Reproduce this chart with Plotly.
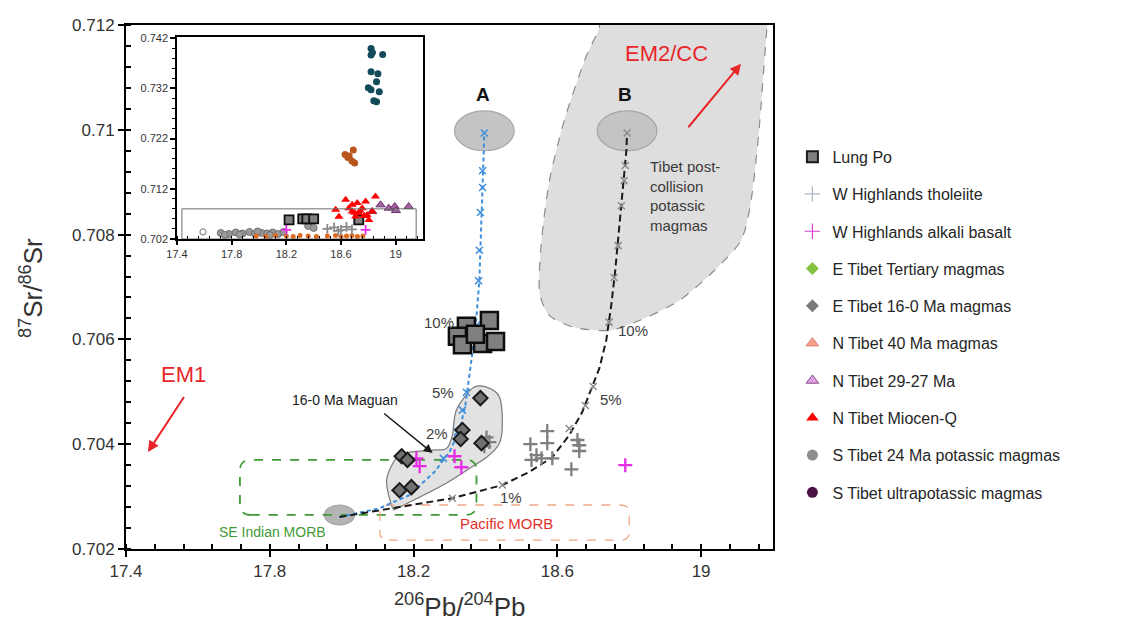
import plotly.graph_objects as go

# ---------------- axes ----------------
X_RANGE = [17.4, 19.2]
Y_RANGE = [0.702, 0.712]
X_TICKS = [17.4, 17.8, 18.2, 18.6, 19.0]
X_TICK_TEXT = ["17.4", "17.8", "18.2", "18.6", "19"]
Y_TICKS = [0.702, 0.704, 0.706, 0.708, 0.710, 0.712]
Y_TICK_TEXT = ["0.702", "0.704", "0.706", "0.708", "0.71", "0.712"]
X_TITLE = "<sup>206</sup>Pb/<sup>204</sup>Pb"
Y_TITLE = "<sup>87</sup>Sr/<sup>86</sup>Sr"
INSET_X_RANGE = [17.4, 19.2]
INSET_Y_RANGE = [0.702, 0.7422]
INSET_Y_TICKS = [0.702, 0.712, 0.722, 0.732, 0.742]
INSET_Y_TICK_TEXT = ["0.702", "0.712", "0.722", "0.732", "0.742"]

# ---------------- main panel samples ----------------
lung_po_x = [18.347, 18.411, 18.322, 18.336, 18.392, 18.428, 18.372]
lung_po_y = [0.70625, 0.70636, 0.70606, 0.70590, 0.70592, 0.70596, 0.70610]

maguan_x = [18.386, 18.336, 18.331, 18.389, 18.167, 18.183, 18.161, 18.194]
maguan_y = [0.70488, 0.70427, 0.70410, 0.70402, 0.70377, 0.70370, 0.70312, 0.70318]

tholeiite_x = [18.572, 18.525, 18.572, 18.542, 18.528, 18.556, 18.586, 18.656,
               18.661, 18.661, 18.639, 18.403, 18.411, 18.397]
tholeiite_y = [0.70425, 0.70400, 0.70402, 0.70379, 0.70370, 0.70373, 0.70373, 0.70408,
               0.70398, 0.70387, 0.70352, 0.70413, 0.70404, 0.70396]

alkali_x = [18.208, 18.217, 18.314, 18.333, 18.789]
alkali_y = [0.70373, 0.70358, 0.70377, 0.70356, 0.70360]

# mixing curve towards end-member A
mixA_x = [17.994, 18.106, 18.189, 18.258, 18.300, 18.328, 18.344, 18.358, 18.372,
          18.383, 18.389, 18.394, 18.397]
mixA_y = [0.70261, 0.70278, 0.70303, 0.70347, 0.70385, 0.70427, 0.70474, 0.70541,
          0.70617, 0.70712, 0.70827, 0.70922, 0.70994]
mixA_step_x = [18.397, 18.392, 18.392, 18.386, 18.383, 18.381, 18.375, 18.347,
               18.336, 18.322, 18.283]
mixA_step_y = [0.70994, 0.70922, 0.70890, 0.70842, 0.70770, 0.70712, 0.70627, 0.70499,
               0.70465, 0.70423, 0.70373]

# mixing curve towards end-member B
mixB_x = [17.994, 18.161, 18.308, 18.447, 18.522, 18.586, 18.633, 18.669, 18.694,
          18.717, 18.736, 18.750, 18.761, 18.772, 18.783, 18.792, 18.794]
mixB_y = [0.70261, 0.70280, 0.70297, 0.70322, 0.70347, 0.70375, 0.70417, 0.70461, 0.70503,
          0.70545, 0.70598, 0.70665, 0.70731, 0.70808, 0.70890, 0.70960, 0.70994]
mixB_step_x = [18.794, 18.789, 18.786, 18.778, 18.769, 18.758, 18.744, 18.700,
               18.678, 18.633, 18.447, 18.308]
mixB_step_y = [0.70994, 0.70932, 0.70903, 0.70855, 0.70779, 0.70718, 0.70633, 0.70510,
               0.70474, 0.70430, 0.70322, 0.70297]

mix_pct_text = ["10%", "5%", "2%", "10%", "5%", "1%"]
mix_pct_x = [18.272, 18.281, 18.264, 18.811, 18.750, 18.472]
mix_pct_y = [0.70632, 0.70499, 0.70421, 0.70617, 0.70486, 0.70299]

# end-member fields (centre x, centre y, half width, half height)
end_members = {"A": (18.397, 0.70998, 0.083, 0.00038),
               "B": (18.794, 0.70998, 0.083, 0.00038),
               "MORB": (17.994, 0.70265, 0.042, 0.00019)}

# outlined fields
post_collision_x = [18.730, 18.717, 18.675, 18.619, 18.578, 18.556, 18.550, 18.578, 18.647,
                    18.744, 18.828, 18.939, 19.036, 19.111, 19.139, 19.161, 19.183, 19.190]
post_collision_y = [0.71230, 0.71194, 0.71131, 0.71017, 0.70903, 0.70789, 0.70693, 0.70646,
                    0.70623, 0.70617, 0.70636, 0.70674, 0.70731, 0.70789, 0.70865, 0.70998,
                    0.71194, 0.71230]

maguan_field_x = [18.142, 18.125, 18.153, 18.189, 18.264, 18.292, 18.308, 18.319, 18.364,
                  18.403, 18.439, 18.447, 18.439, 18.403, 18.347, 18.292, 18.217, 18.161]
maguan_field_y = [0.70278, 0.70331, 0.70375, 0.70385, 0.70389, 0.70392, 0.70417, 0.70465,
                  0.70507, 0.70509, 0.70490, 0.70440, 0.70402, 0.70375, 0.70350, 0.70326,
                  0.70299, 0.70280]

se_indian_morb_box = [17.717, 18.375, 0.70265, 0.70370]
pacific_morb_box = [18.106, 18.800, 0.70217, 0.70284]

# ---------------- inset samples ----------------
in_ultra_x = [18.82, 18.83, 18.82, 18.905, 18.82, 18.87, 18.86, 18.80, 18.82, 18.88, 18.84, 18.86]
in_ultra_y = [0.7399, 0.7391, 0.7386, 0.7387, 0.7353, 0.7349, 0.7333, 0.7321, 0.7317, 0.7313,
              0.7295, 0.7293]

in_k24_x = [18.63, 18.66, 18.69, 18.68, 18.70, 18.65]
in_k24_y = [0.7188, 0.7185, 0.7197, 0.7175, 0.7171, 0.7182]

in_mioq_x = [18.634, 18.561, 18.585, 18.682, 18.719, 18.780, 18.852, 18.731, 18.791, 18.682,
             18.755, 18.658, 18.707, 18.828, 18.804, 18.70, 18.74, 18.77]
in_mioq_y = [0.7098, 0.7078, 0.70645, 0.7088, 0.70914, 0.70946, 0.71046, 0.70714, 0.7068,
             0.70746, 0.70814, 0.70814, 0.70646, 0.70746, 0.7058, 0.7072, 0.7076, 0.7066]

in_2927_x = [18.889, 18.949, 18.993, 19.002, 19.095, 18.828]
in_2927_y = [0.7088, 0.70814, 0.70846, 0.70766, 0.70846, 0.70746]

in_lungpo_x = [18.22, 18.32, 18.35, 18.40, 18.73]
in_lungpo_y = [0.7058, 0.7060, 0.7060, 0.7060, 0.7058]

in_gray_x = [17.72, 17.78, 17.83, 17.88, 17.93, 17.97, 18.02, 18.06, 18.10, 18.14, 18.18,
             17.75, 17.86, 17.99, 18.08, 18.36, 18.40]
in_gray_y = [0.7032, 0.7030, 0.7033, 0.7031, 0.7034, 0.7030, 0.7032, 0.7031, 0.7033, 0.7030,
             0.7034, 0.7028, 0.7029, 0.7035, 0.7028, 0.7046, 0.7042]

in_open_x = [17.59]
in_open_y = [0.7034]

in_orange_x = [17.98, 18.05, 18.12, 18.20, 18.25, 18.30, 18.36, 18.42, 18.50, 18.56, 18.60,
               18.64, 18.68, 18.72, 18.76]
in_orange_y = [0.7026, 0.7025, 0.7027, 0.7026, 0.7025, 0.7027, 0.7026, 0.7025, 0.7026, 0.7027,
               0.7025, 0.7026, 0.7027, 0.7025, 0.7026]

in_thol_x = [18.50, 18.55, 18.60, 18.64, 18.68, 18.58]
in_thol_y = [0.7040, 0.7043, 0.7038, 0.7044, 0.7039, 0.7036]

in_alkali_x = [18.20, 18.78]
in_alkali_y = [0.7038, 0.7038]

# outline of the main panel range drawn inside the inset
inset_frame_box = [17.436, 19.15, 0.702, 0.708]

FONT = "Arial, Liberation Sans, sans-serif"


def smooth_closed_path(xs, ys, tension=6.0):
    """Closed Catmull-Rom spline written as cubic Bezier segments."""
    n = len(xs)
    parts = [f"M {xs[0]},{ys[0]}"]
    for i in range(n):
        p0 = (xs[i - 1], ys[i - 1])
        p1 = (xs[i], ys[i])
        p2 = (xs[(i + 1) % n], ys[(i + 1) % n])
        p3 = (xs[(i + 2) % n], ys[(i + 2) % n])
        c1 = (p1[0] + (p2[0] - p0[0]) / tension, p1[1] + (p2[1] - p0[1]) / tension)
        c2 = (p2[0] - (p3[0] - p1[0]) / tension, p2[1] - (p3[1] - p1[1]) / tension)
        parts.append(f"C {c1[0]},{c1[1]} {c2[0]},{c2[1]} {p2[0]},{p2[1]}")
    return " ".join(parts) + " Z"


def rounded_box_path(x0, x1, y0, y1, rx, ry):
    return (f"M {x0 + rx},{y0} L {x1 - rx},{y0} Q {x1},{y0} {x1},{y0 + ry} "
            f"L {x1},{y1 - ry} Q {x1},{y1} {x1 - rx},{y1} L {x0 + rx},{y1} "
            f"Q {x0},{y1} {x0},{y1 - ry} L {x0},{y0 + ry} Q {x0},{y0} {x0 + rx},{y0} Z")


fig = go.Figure()

# ---------- main panel traces ----------
fig.add_trace(go.Scatter(x=mixA_x, y=mixA_y, mode="lines",
                         line=dict(color="#3f8fdc", width=2, dash="4px,3px"),
                         showlegend=False, hoverinfo="skip"))
fig.add_trace(go.Scatter(x=mixA_step_x, y=mixA_step_y, mode="markers",
                         marker=dict(symbol="x-thin", size=7,
                                     line=dict(color="#3f8fdc", width=1.5)),
                         showlegend=False, hoverinfo="skip"))
fig.add_trace(go.Scatter(x=mixB_x, y=mixB_y, mode="lines",
                         line=dict(color="#1a1a1a", width=2, dash="7px,4px"),
                         showlegend=False, hoverinfo="skip"))
fig.add_trace(go.Scatter(x=mixB_step_x, y=mixB_step_y, mode="markers",
                         marker=dict(symbol="x-thin", size=7,
                                     line=dict(color="#8c8c8c", width=1.5)),
                         showlegend=False, hoverinfo="skip"))

fig.add_trace(go.Scatter(x=tholeiite_x, y=tholeiite_y, mode="markers",
                         marker=dict(symbol="cross-thin", size=10,
                                     line=dict(color="#7f7f7f", width=2.3)),
                         showlegend=False))
fig.add_trace(go.Scatter(x=alkali_x, y=alkali_y, mode="markers",
                         marker=dict(symbol="cross-thin", size=10,
                                     line=dict(color="#e62ee6", width=2.3)),
                         showlegend=False))
fig.add_trace(go.Scatter(x=maguan_x, y=maguan_y, mode="markers",
                         marker=dict(symbol="diamond", size=11, color="#707070",
                                     line=dict(color="#1a1a1a", width=2)),
                         showlegend=False))
fig.add_trace(go.Scatter(x=lung_po_x, y=lung_po_y, mode="markers",
                         marker=dict(symbol="square", size=17, color="#808080",
                                     line=dict(color="#0d0d0d", width=2.5)),
                         showlegend=False))

# ---------- inset traces ----------
IN = dict(xaxis="x2", yaxis="y2", showlegend=False, hoverinfo="skip")
fig.add_trace(go.Scatter(x=in_gray_x, y=in_gray_y, mode="markers",
                         marker=dict(symbol="circle", size=7, color="#9a9a9a",
                                     line=dict(color="#6e6e6e", width=1)), **IN))
fig.add_trace(go.Scatter(x=in_open_x, y=in_open_y, mode="markers",
                         marker=dict(symbol="circle-open", size=6, color="#8a8a8a",
                                     line=dict(width=1.2)), **IN))
fig.add_trace(go.Scatter(x=in_orange_x, y=in_orange_y, mode="markers",
                         marker=dict(symbol="circle", size=5, color="#e06a1e"), **IN))
fig.add_trace(go.Scatter(x=in_thol_x, y=in_thol_y, mode="markers",
                         marker=dict(symbol="cross-thin", size=7,
                                     line=dict(color="#8a8a8a", width=1.8)), **IN))
fig.add_trace(go.Scatter(x=in_alkali_x, y=in_alkali_y, mode="markers",
                         marker=dict(symbol="cross-thin", size=7,
                                     line=dict(color="#e62ee6", width=1.8)), **IN))
fig.add_trace(go.Scatter(x=in_lungpo_x, y=in_lungpo_y, mode="markers",
                         marker=dict(symbol="square", size=9, color="#808080",
                                     line=dict(color="#0d0d0d", width=1.8)), **IN))
fig.add_trace(go.Scatter(x=in_2927_x, y=in_2927_y, mode="markers",
                         marker=dict(symbol="triangle-up", size=8, color="#a0649f",
                                     line=dict(color="#6e2f6e", width=1)), **IN))
fig.add_trace(go.Scatter(x=in_mioq_x, y=in_mioq_y, mode="markers",
                         marker=dict(symbol="triangle-up", size=8, color="#ff0000"), **IN))
fig.add_trace(go.Scatter(x=in_k24_x, y=in_k24_y, mode="markers",
                         marker=dict(symbol="circle", size=7, color="#b8561c"), **IN))
fig.add_trace(go.Scatter(x=in_ultra_x, y=in_ultra_y, mode="markers",
                         marker=dict(symbol="circle", size=7, color="#114b5a"), **IN))

# ---------- legend entries ----------
legend_items = [
    ("Lung Po", dict(symbol="square", size=11, color="#808080",
                     line=dict(color="#1a1a1a", width=2))),
    ("W Highlands tholeiite", dict(symbol="cross-thin", size=11,
                                   line=dict(color="#a9b4c2", width=1.2))),
    ("W Highlands alkali basalt", dict(symbol="cross-thin", size=11,
                                       line=dict(color="#d63fd6", width=1.2))),
    ("E Tibet Tertiary magmas", dict(symbol="diamond", size=10, color="#86c241")),
    ("E Tibet 16-0 Ma magmas", dict(symbol="diamond", size=10, color="#7a7a7a")),
    ("N Tibet 40 Ma magmas", dict(symbol="triangle-up", size=11, color="#f4a08c",
                                  line=dict(color="#d98070", width=1))),
    ("N Tibet 29-27 Ma", dict(symbol="triangle-up", size=11, color="#dca0dc",
                              line=dict(color="#8c4a8c", width=1))),
    ("N Tibet Miocen-Q", dict(symbol="triangle-up", size=11, color="#ff0000")),
    ("S Tibet 24 Ma potassic magmas", dict(symbol="circle", size=11, color="#8c8c8c")),
    ("S Tibet ultrapotassic magmas", dict(symbol="circle", size=11, color="#4a1245")),
]
for i, (name, marker) in enumerate(legend_items):
    fig.add_trace(go.Scatter(x=[None], y=[None], mode="markers", name=name,
                             marker=marker, legendgroup=f"g{i}", showlegend=True))

# ---------- shapes ----------
shapes = []
shapes.append(dict(type="path", xref="x", yref="y", layer="below",
                   path=smooth_closed_path(post_collision_x, post_collision_y, tension=8.0),
                   fillcolor="#dedede", line=dict(color="#8c8c8c", width=1.2, dash="dash")))
shapes.append(dict(type="path", xref="x", yref="y", layer="below",
                   path=smooth_closed_path(maguan_field_x, maguan_field_y, tension=7.0),
                   fillcolor="#e2e2e2", line=dict(color="#7a7a7a", width=1.2)))
for key, (cx, cy, hw, hh) in end_members.items():
    shapes.append(dict(type="circle", xref="x", yref="y", layer="below",
                       x0=cx - hw, x1=cx + hw, y0=cy - hh, y1=cy + hh,
                       fillcolor="#c4c4c4" if key != "MORB" else "#b4b4b4",
                       line=dict(color="#a6a6a6", width=1.2)))
x0, x1, y0, y1 = se_indian_morb_box
shapes.append(dict(type="path", xref="x", yref="y", layer="below",
                   path=rounded_box_path(x0, x1, y0, y1, 0.03, 0.0002),
                   line=dict(color="#3f9a35", width=1.8, dash="dash")))
x0, x1, y0, y1 = pacific_morb_box
shapes.append(dict(type="path", xref="x", yref="y", layer="below",
                   path=rounded_box_path(x0, x1, y0, y1, 0.025, 0.00015),
                   line=dict(color="#f0a888", width=1.3, dash="dash")))
# inset: outline of the main-panel window
x0, x1, y0, y1 = inset_frame_box
shapes.append(dict(type="rect", xref="x2", yref="y2", x0=x0, x1=x1, y0=y0, y1=y1,
                   line=dict(color="#6e6e6e", width=1)))

# ---------- annotations ----------
ann = []
for t, x, y in zip(mix_pct_text, mix_pct_x, mix_pct_y):
    ann.append(dict(x=x, y=y, text=t, showarrow=False, xref="x", yref="y",
                    font=dict(size=15, color="#404040", family=FONT)))
for key in ("A", "B"):
    cx, cy, hw, hh = end_members[key]
    ann.append(dict(x=cx - 0.005, y=cy + hh + 0.00031, text=f"<b>{key}</b>", showarrow=False,
                    font=dict(size=19, color="#111111", family=FONT)))

ann += [
    dict(x=17.561, y=0.70533, text="EM1", showarrow=False,
         font=dict(size=22, color="#e8262a", family=FONT)),
    dict(x=17.461, y=0.70385, ax=17.564, ay=0.70493, axref="x", ayref="y", text="",
         showarrow=True, arrowhead=2, arrowsize=1.1, arrowwidth=2, arrowcolor="#e8262a"),
    dict(x=18.903, y=0.71145, text="EM2/CC", showarrow=False,
         font=dict(size=22, color="#e8262a", family=FONT)),
    dict(x=19.111, y=0.71126, ax=18.961, ay=0.71002, axref="x", ayref="y", text="",
         showarrow=True, arrowhead=2, arrowsize=1.1, arrowwidth=2, arrowcolor="#e8262a"),
    dict(x=18.853, y=0.70874, text="Tibet post-<br>collision<br>potassic<br>magmas",
         showarrow=False, xanchor="left", align="left",
         font=dict(size=15, color="#3a3a3a", family=FONT)),
    dict(x=18.008, y=0.70484, text="16-0 Ma Maguan", showarrow=False,
         font=dict(size=14, color="#1a1a1a", family=FONT)),
    dict(x=18.253, y=0.70383, ax=18.114, ay=0.70461, axref="x", ayref="y", text="",
         showarrow=True, arrowhead=2, arrowsize=1.2, arrowwidth=1.5, arrowcolor="#1a1a1a"),
    dict(x=17.808, y=0.70232, text="SE Indian MORB", showarrow=False,
         font=dict(size=14, color="#3f9a35", family=FONT)),
    dict(x=18.458, y=0.70248, text="Pacific MORB", showarrow=False,
         font=dict(size=15, color="#e0302a", family=FONT)),
]

# ---------- layout ----------
MAIN_W, MAIN_L, MAIN_T, MAIN_B = 647, 126, 25, 549
MAIN_H = MAIN_B - MAIN_T

# axis titles placed in paper space
ann += [
    dict(xref="paper", yref="paper", x=(460 - MAIN_L) / MAIN_W, y=(MAIN_B - 605) / MAIN_H,
         xanchor="center", yanchor="middle",
         text=X_TITLE, showarrow=False, font=dict(size=26, color="#333333", family=FONT)),
    dict(xref="paper", yref="paper", x=(31 - MAIN_L) / MAIN_W, y=(MAIN_B - 288) / MAIN_H,
         xanchor="center", yanchor="middle",
         text=Y_TITLE, textangle=-90, showarrow=False,
         font=dict(size=26, color="#333333", family=FONT)),
]

axis_common = dict(showgrid=False, zeroline=False, color="#000000", automargin=False)

fig.update_layout(
    width=1122, height=624,
    margin=dict(l=MAIN_L, r=1122 - MAIN_L - MAIN_W, t=MAIN_T, b=624 - MAIN_B),
    paper_bgcolor="white", plot_bgcolor="white",
    font=dict(family=FONT, color="#333333"),
    shapes=shapes, annotations=ann,
    legend=dict(x=1.03, y=0.781, xanchor="left", yanchor="top",
                font=dict(size=16, color="#262626", family=FONT),
                tracegroupgap=13.5, itemwidth=30, bgcolor="rgba(0,0,0,0)"),
    xaxis=dict(**axis_common, range=X_RANGE, domain=[0, 1], tickvals=X_TICKS,
               ticktext=X_TICK_TEXT, ticks="outside", ticklen=6, tickwidth=2,
               showline=True, linewidth=2, linecolor="#000", mirror=True,
               tickfont=dict(size=17, color="#333333"),
               minor=dict(dtick=0.08, tick0=17.4, ticks="inside", ticklen=5, tickwidth=1.5,
                          tickcolor="#000")),
    yaxis=dict(**axis_common, range=Y_RANGE, domain=[0, 1], tickvals=Y_TICKS,
               ticktext=Y_TICK_TEXT, ticks="outside", ticklen=6, tickwidth=2,
               showline=True, linewidth=2, linecolor="#000", mirror=True,
               tickfont=dict(size=17, color="#333333"),
               minor=dict(dtick=0.0004, tick0=0.702, ticks="inside", ticklen=5, tickwidth=1.5,
                          tickcolor="#000")),
    xaxis3=dict(overlaying="x", anchor="y", range=X_RANGE, tickvals=X_TICKS,
                showticklabels=False, ticks="inside", ticklen=6, tickwidth=2,
                tickcolor="#000", showgrid=False, zeroline=False, showline=False),
    yaxis3=dict(overlaying="y", anchor="x", range=Y_RANGE, tickvals=Y_TICKS,
                showticklabels=False, ticks="inside", ticklen=6, tickwidth=2,
                tickcolor="#000", showgrid=False, zeroline=False, showline=False),
    xaxis2=dict(**axis_common, anchor="y2", range=INSET_X_RANGE,
                domain=[(177 - MAIN_L) / MAIN_W, (423 - MAIN_L) / MAIN_W],
                tickvals=X_TICKS, ticktext=X_TICK_TEXT, ticks="outside", ticklen=4,
                tickwidth=1.5, showline=True, linewidth=1.5, linecolor="#000", mirror=True,
                tickfont=dict(size=11, color="#333333"),
                minor=dict(dtick=0.08, tick0=17.4, ticks="inside", ticklen=3, tickwidth=1,
                           tickcolor="#000")),
    yaxis2=dict(**axis_common, anchor="x2", range=INSET_Y_RANGE,
                domain=[(MAIN_B - 239) / MAIN_H, (MAIN_B - 37) / MAIN_H],
                tickvals=INSET_Y_TICKS, ticktext=INSET_Y_TICK_TEXT, ticks="outside",
                ticklen=5, tickwidth=1.5, showline=True, linewidth=1.5, linecolor="#000",
                mirror=True, tickfont=dict(size=11, color="#333333"),
                minor=dict(dtick=0.002, tick0=0.702, ticks="outside", ticklen=3, tickwidth=1,
                           tickcolor="#000")),
)

fig.write_html("out.html")
